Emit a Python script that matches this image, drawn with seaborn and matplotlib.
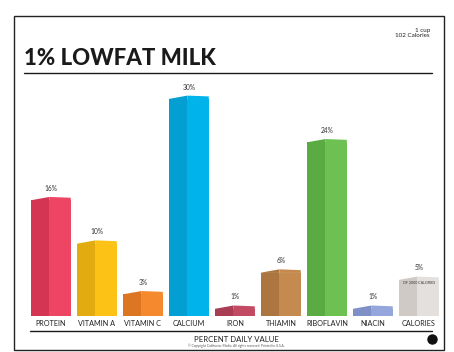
import numpy as np
import pandas as pd
import matplotlib
matplotlib.use("Agg")
import matplotlib.pyplot as plt
from matplotlib.patches import Rectangle, Polygon
from matplotlib.lines import Line2D
import seaborn as sns

categories = ["PROTEIN", "VITAMIN A", "VITAMIN C", "CALCIUM", "IRON",
              "THIAMIN", "RIBOFLAVIN", "NIACIN", "CALORIES"]
values = [16, 10, 3, 30, 1, 6, 24, 1, 5]
value_labels = ["16%", "10%", "3%", "30%", "1%", "6%", "24%", "1%", "5%"]
light_colors = ["#ef4565", "#fcc316", "#f5892d", "#00b3ea", "#c24a63",
                "#c48a4f", "#6cc152", "#94a6dc", "#e4e0dd"]
dark_colors = ["#d33552", "#e2ac10", "#dd7622", "#039fd2", "#a93d54",
               "#ad7640", "#5aab43", "#7f90c6", "#cfcac6"]

sns.set_theme(style="white")
plt.rcParams["font.family"] = ["Lato", "DejaVu Sans"]

W, H = 454, 352
fig = plt.figure(figsize=(W / 100, H / 100), dpi=100)
fig.patch.set_facecolor("white")

def fx(px):
    return px / W

def fy(py):
    return 1 - py / H

# card border
fig.add_artist(Rectangle((fx(14), fy(350)), fx(444) - fx(14), fy(16) - fy(350),
                         transform=fig.transFigure, fill=False, ec="#222222", lw=1.0))

# title and rule
fig.text(fx(24), fy(65), "1% LOWFAT MILK", fontsize=16, fontweight="black",
         color="#1a1a1a", ha="left", va="baseline")
fig.add_artist(Line2D([fx(24), fx(432)], [fy(73), fy(73)], transform=fig.transFigure,
                      color="#1a1a1a", lw=1.0))
fig.text(fx(430), fy(28), "1 cup\n102 Calories", fontsize=4.5, color="#222222",
         ha="right", va="top", linespacing=0.9)

# axes
ax = fig.add_axes([fx(28), fy(316), fx(442) - fx(28), fy(88) - fy(316)])
df = pd.DataFrame({"cat": categories, "val": values})
bw = 0.86
sns.barplot(data=df, x="cat", y="val", hue="cat", palette=light_colors,
            dodge=False, legend=False, width=bw, ax=ax, saturation=1, linewidth=0)
xs = np.arange(len(categories))
vals = np.array(values, dtype=float)
ax.bar(xs - bw / 2, vals, width=bw * 0.46, align="edge", color=dark_colors, lw=0)

cap = 0.45
for x, v, lc, dc in zip(xs, vals, light_colors, dark_colors):
    mid = x - bw / 2 + bw * 0.46
    ax.add_patch(Polygon([(x - bw / 2, v - 0.05), (x - bw / 2, v), (mid, v + cap),
                          (mid, v - 0.05)], closed=True, color=dc, lw=0))
    ax.add_patch(Polygon([(mid, v - 0.05), (mid, v + cap), (x + bw / 2, v + cap * 0.75),
                          (x + bw / 2, v - 0.05)], closed=True, color=lc, lw=0))

for x, v, lab in zip(xs, vals, value_labels):
    ax.text(x, v + cap + 0.7, lab, ha="center", va="bottom", fontsize=4.8, color="#333333")

# note on calories bar
ax.text(xs[-1], vals[-1] - 0.2, "OF 2000 CALORIES", ha="center", va="top",
        fontsize=2.6, color="#333333")

ax.set_ylim(0, 31.5)
ax.set_xlim(-0.5, len(categories) - 0.5)
ax.set_xlabel("")
ax.set_ylabel("")
ax.set_yticks([])
ax.set_xticks(xs)
ax.set_xticklabels(categories, fontsize=5.2, color="#222222")
ax.tick_params(axis="x", length=0, pad=3)
for s in ax.spines.values():
    s.set_visible(False)
ax.set_facecolor("none")

# bottom rule and axis label
fig.add_artist(Line2D([fx(30), fx(432)], [fy(331), fy(331)], transform=fig.transFigure,
                      color="#1a1a1a", lw=1.0))
fig.text(fx(236), fy(339), "PERCENT DAILY VALUE", fontsize=5.6, color="#222222",
         ha="center", va="center")
fig.text(fx(236), fy(345.5), "© Copyright Coldwater Media. All rights reserved. Printed in U.S.A.",
         fontsize=2.3, color="#555555", ha="center", va="center")

# black dot
fig.add_artist(Line2D([fx(432)], [fy(339)], transform=fig.transFigure, marker="o",
                      markersize=6.5, color="#111111", lw=0))

fig.savefig("out.png", dpi=100, facecolor="white")
